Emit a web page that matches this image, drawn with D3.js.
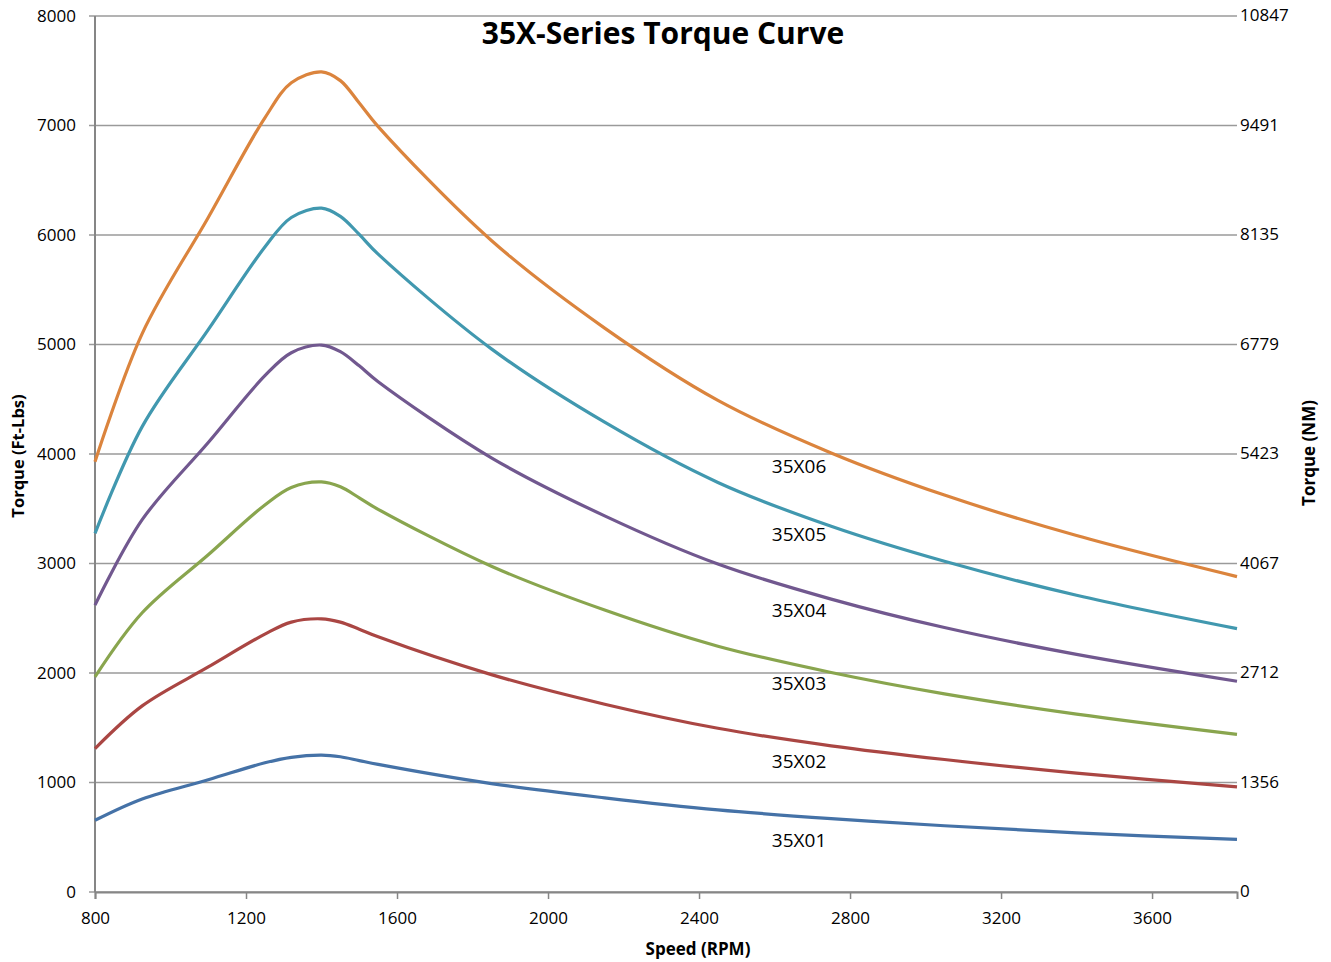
<!DOCTYPE html>
<html>
<head>
<meta charset="utf-8">
<script src="https://cdn.jsdelivr.net/npm/d3@7"></script>
<style>
  body { margin: 0; background: #fff; }
  text { font-family: "Open Sans", sans-serif; fill: #000; }
</style>
</head>
<body>
<div id="chart"></div>
<script>
// speed points (RPM) shared by every curve
let rpm = [800, 925, 1100, 1250, 1320, 1400, 1450, 1500, 1550, 1850, 2150, 2450, 2750, 3050, 3400, 3825];

// torque (ft-lbs)
let t35X01 = [655, 850, 1025, 1180, 1230, 1250, 1235, 1200, 1165, 990, 860, 750, 670, 605, 540, 480];
let t35X02 = [1310, 1700, 2055, 2355, 2465, 2495, 2465, 2400, 2330, 1985, 1715, 1495, 1335, 1210, 1085, 960];
let t35X03 = [1965, 2550, 3080, 3535, 3695, 3745, 3700, 3600, 3495, 2975, 2575, 2245, 2005, 1810, 1625, 1440];
let t35X04 = [2620, 3400, 4105, 4715, 4925, 4995, 4935, 4805, 4660, 3965, 3435, 2995, 2675, 2415, 2170, 1925];
let t35X05 = [3275, 4250, 5135, 5890, 6160, 6245, 6170, 6005, 5825, 4960, 4290, 3740, 3340, 3020, 2710, 2405];
let t35X06 = [3930, 5100, 6160, 7070, 7390, 7490, 7410, 7205, 6990, 5950, 5150, 4490, 4010, 3625, 3255, 2880];

let seriesNames = ["35X01", "35X02", "35X03", "35X04", "35X05", "35X06"];
let seriesValues = [t35X01, t35X02, t35X03, t35X04, t35X05, t35X06];

// where each series name sits (RPM, ft-lbs of the text baseline)
let labelRpm = 2665;
let labelTorque = [411, 1132, 1845, 2511, 3205, 3826];

let leftTicks = [0, 1000, 2000, 3000, 4000, 5000, 6000, 7000, 8000];
let rightTickLabels = ["0", "1356", "2712", "4067", "5423", "6779", "8135", "9491", "10847"];
let xTicks = [800, 1200, 1600, 2000, 2400, 2800, 3200, 3600];

let color = ["#4572A7", "#AA4643", "#89A54E", "#71588F", "#4198AF", "#DB843D"];

// set the dimensions and margins of the graph
let margin = {top: 16, right: 94, bottom: 70, left: 95},
    width = 1331 - margin.left - margin.right,
    height = 962 - margin.top - margin.bottom;

let svg = d3.select("#chart").append("svg")
    .attr("width", 1331)
    .attr("height", 962);

let g = svg.append("g")
    .attr("transform", "translate(" + margin.left + "," + margin.top + ")");

// set the ranges
let x = d3.scaleLinear().domain([800, 3825]).range([0, width]);
let y = d3.scaleLinear().domain([0, 8000]).range([height, 0]);

// horizontal gridlines (with small outward tick on the left)
g.append("g")
    .selectAll("line")
    .data(leftTicks)
    .enter().append("line")
    .attr("x1", -6)
    .attr("x2", width)
    .attr("y1", d => y(d))
    .attr("y2", d => y(d))
    .attr("stroke", "#9a9a9a")
    .attr("stroke-width", 1.5);

// left axis labels
g.append("g")
    .selectAll("text")
    .data(leftTicks)
    .enter().append("text")
    .attr("x", -19)
    .attr("y", d => y(d))
    .attr("dy", "0.35em")
    .style("text-anchor", "end")
    .style("font-size", "17px")
    .text(d => d);

// right axis labels (newton-metres)
g.append("g")
    .selectAll("text")
    .data(leftTicks)
    .enter().append("text")
    .attr("x", width + 3)
    .attr("y", d => y(d))
    .attr("dy", "0.3em")
    .style("text-anchor", "start")
    .style("font-size", "17px")
    .text((d, i) => rightTickLabels[i]);

// x axis
let xAxis = g.append("g")
    .attr("transform", "translate(0," + height + ")")
    .call(d3.axisBottom(x).tickValues(xTicks).tickSize(7).tickFormat(d3.format("d")));
xAxis.select(".domain").attr("stroke", "#868686").attr("stroke-width", 2);
xAxis.selectAll(".tick line").attr("stroke", "#868686").attr("stroke-width", 1.5);
xAxis.selectAll(".tick text")
    .attr("y", 20)
    .style("font-size", "17px")
    .style("font-family", "'Open Sans', sans-serif")
    .attr("fill", "#000");

// left vertical axis line
g.append("line")
    .attr("x1", 0).attr("x2", 0)
    .attr("y1", 0).attr("y2", height)
    .attr("stroke", "#868686")
    .attr("stroke-width", 2);

// the torque curves
let line = d3.line()
    .x((d, i) => x(rpm[i]))
    .y(d => y(d))
    .curve(d3.curveCatmullRom.alpha(0.5));

g.append("g")
    .selectAll("path")
    .data(seriesValues)
    .enter().append("path")
    .attr("d", d => line(d))
    .attr("fill", "none")
    .attr("stroke", (d, i) => color[i])
    .attr("stroke-width", 3.2)
    .attr("stroke-linejoin", "round");

// series names
g.append("g")
    .selectAll("text")
    .data(seriesNames)
    .enter().append("text")
    .attr("x", x(labelRpm))
    .attr("y", (d, i) => y(labelTorque[i]))
    .style("text-anchor", "middle")
    .style("font-size", "19px")
    .text(d => d);

// title
svg.append("text")
    .attr("x", 663)
    .attr("y", 44)
    .style("text-anchor", "middle")
    .style("font-size", "30px")
    .style("font-weight", "bold")
    .text("35X-Series Torque Curve");

// text label for the x axis
svg.append("text")
    .attr("x", 698)
    .attr("y", 955)
    .style("text-anchor", "middle")
    .style("font-size", "17px")
    .style("font-weight", "bold")
    .text("Speed (RPM)");

// text label for the left y axis
svg.append("text")
    .attr("transform", "translate(24,456) rotate(-90)")
    .style("text-anchor", "middle")
    .style("font-size", "16.5px")
    .style("font-weight", "bold")
    .text("Torque (Ft-Lbs)");

// text label for the right y axis
svg.append("text")
    .attr("transform", "translate(1315,453) rotate(-90)")
    .style("text-anchor", "middle")
    .style("font-size", "17px")
    .style("font-weight", "bold")
    .text("Torque (NM)");
</script>
</body>
</html>
